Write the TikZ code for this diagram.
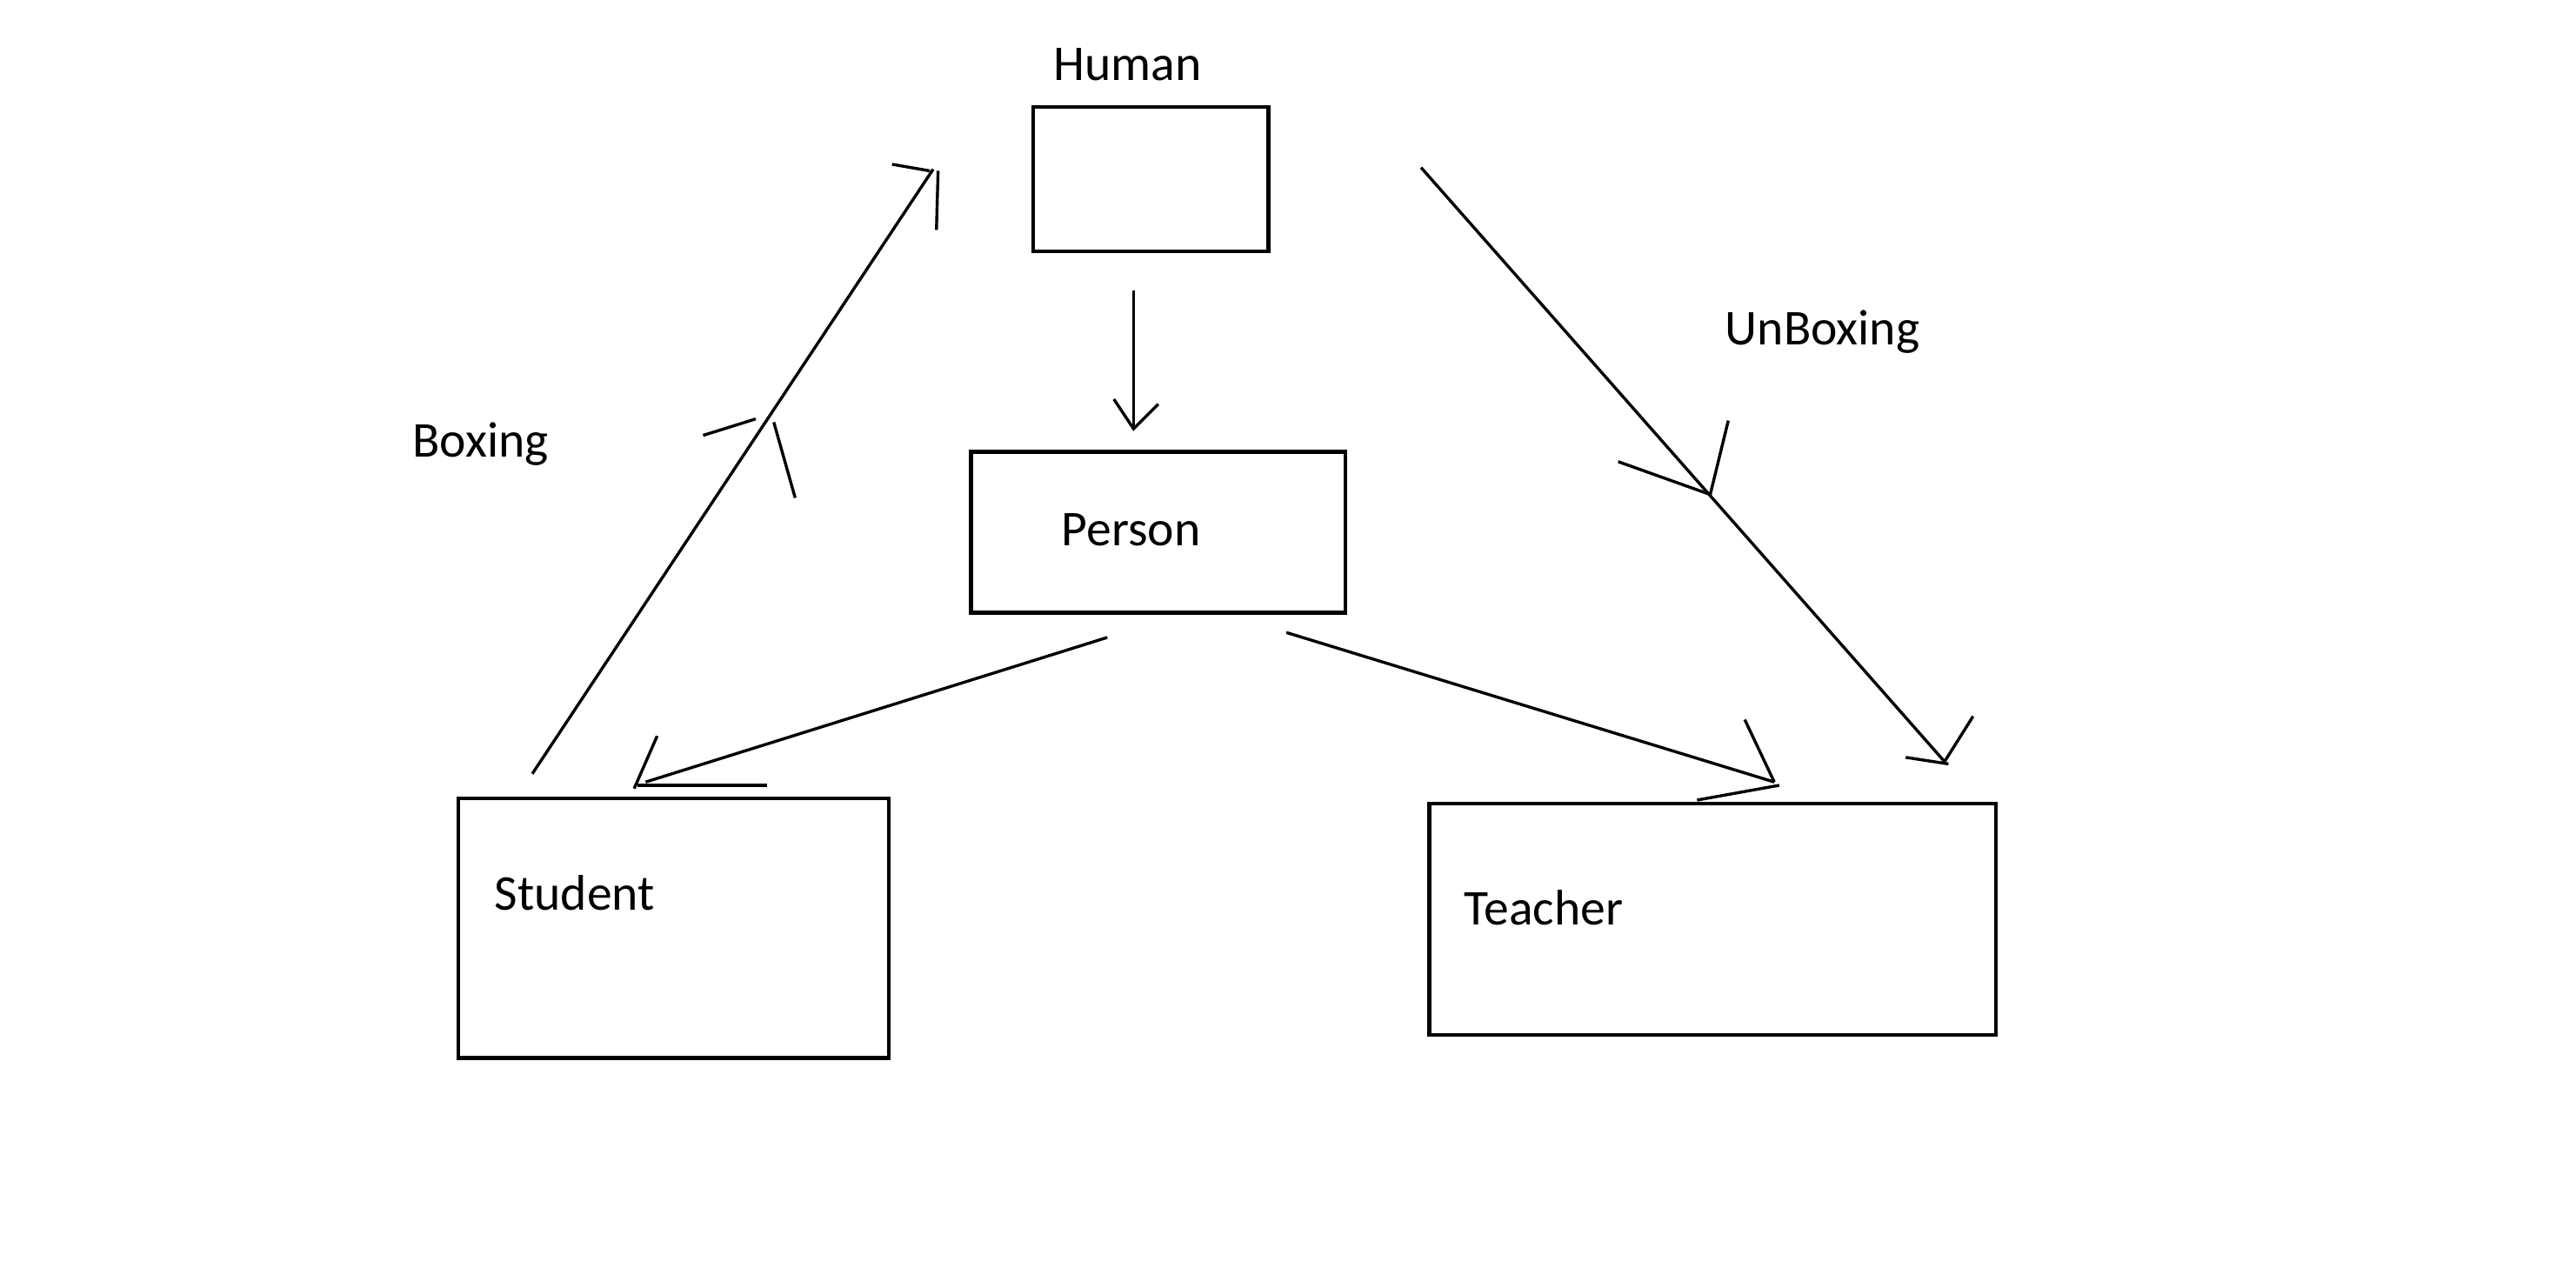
\documentclass[tikz,border=0pt]{standalone}
\usepackage{fontspec}
\setmainfont{Carlito}
\begin{document}
\begin{tikzpicture}[x=1pt,y=-1pt,
  box/.style={draw=black,line width=2.3pt,minimum width=#1,inner sep=0pt},
  lbl/.style={anchor=base west,inner sep=0pt,font=\fontsize{30.5}{36}\selectfont},
  ln/.style={line width=1.8pt,draw=black}]
\useasboundingbox (0,0) rectangle (1568,771.3);
% boxes
\node[box=143pt,minimum height=88pt] (human) at (700.5,109) {};
\node[box=228pt,minimum height=98pt] (person) at (705,324) {};
\node[box=262pt,minimum height=158pt] (student) at (410,565) {};
\node[box=345pt,minimum height=141pt] (teacher) at (1042.5,559.5) {};
% labels
\node[lbl] (thuman) at (641,49) {Human};
\node[lbl] (tperson) at (646,332) {Person};
\node[lbl] (tstudent) at (301,554) {Student};
\node[lbl] (tteacher) at (891,563) {Teacher};
\node[lbl] (tboxing) at (251,278) {Boxing};
\node[lbl] (tunboxing) at (1050,210) {UnBoxing};
% coordinates
\coordinate (h1) at (690,177);
\coordinate (h2) at (690,261);
\coordinate (ps1) at (674,388);
\coordinate (ps2) at (393,476);
\coordinate (pt1) at (783,385);
\coordinate (pt2) at (1080,476);
\coordinate (b1) at (324,471);
\coordinate (b2) at (568,103);
\coordinate (bm) at (464,257);
\coordinate (u1) at (865,102);
\coordinate (u2) at (1184,464);
\coordinate (um) at (1041,301);
% connectors
\draw[ln] (h1) -- (h2);
\draw[ln] (678,243) -- (h2) -- (705,246);
\draw[ln] (ps1) -- (ps2);
\draw[ln] (400,448) -- (386,480);
\draw[ln] (388,478) -- (467,478);
\draw[ln] (pt1) -- (pt2);
\draw[ln] (1062,438) -- (1080,476);
\draw[ln] (1033,487) -- (1083,478);
\draw[ln] (b1) -- (b2);
\draw[ln] (543,100) -- (566,104);
\draw[ln] (571,104) -- (570,140);
\draw[ln] (428,265) -- (460,255);
\draw[ln] (471,257) -- (484,303);
\draw[ln] (u1) -- (u2);
\draw[ln] (985,281) -- (um) -- (1052,256);
\draw[ln] (1160,461) -- (1186,465);
\draw[ln] (1184,463) -- (1201,436);
\end{tikzpicture}
\end{document}
